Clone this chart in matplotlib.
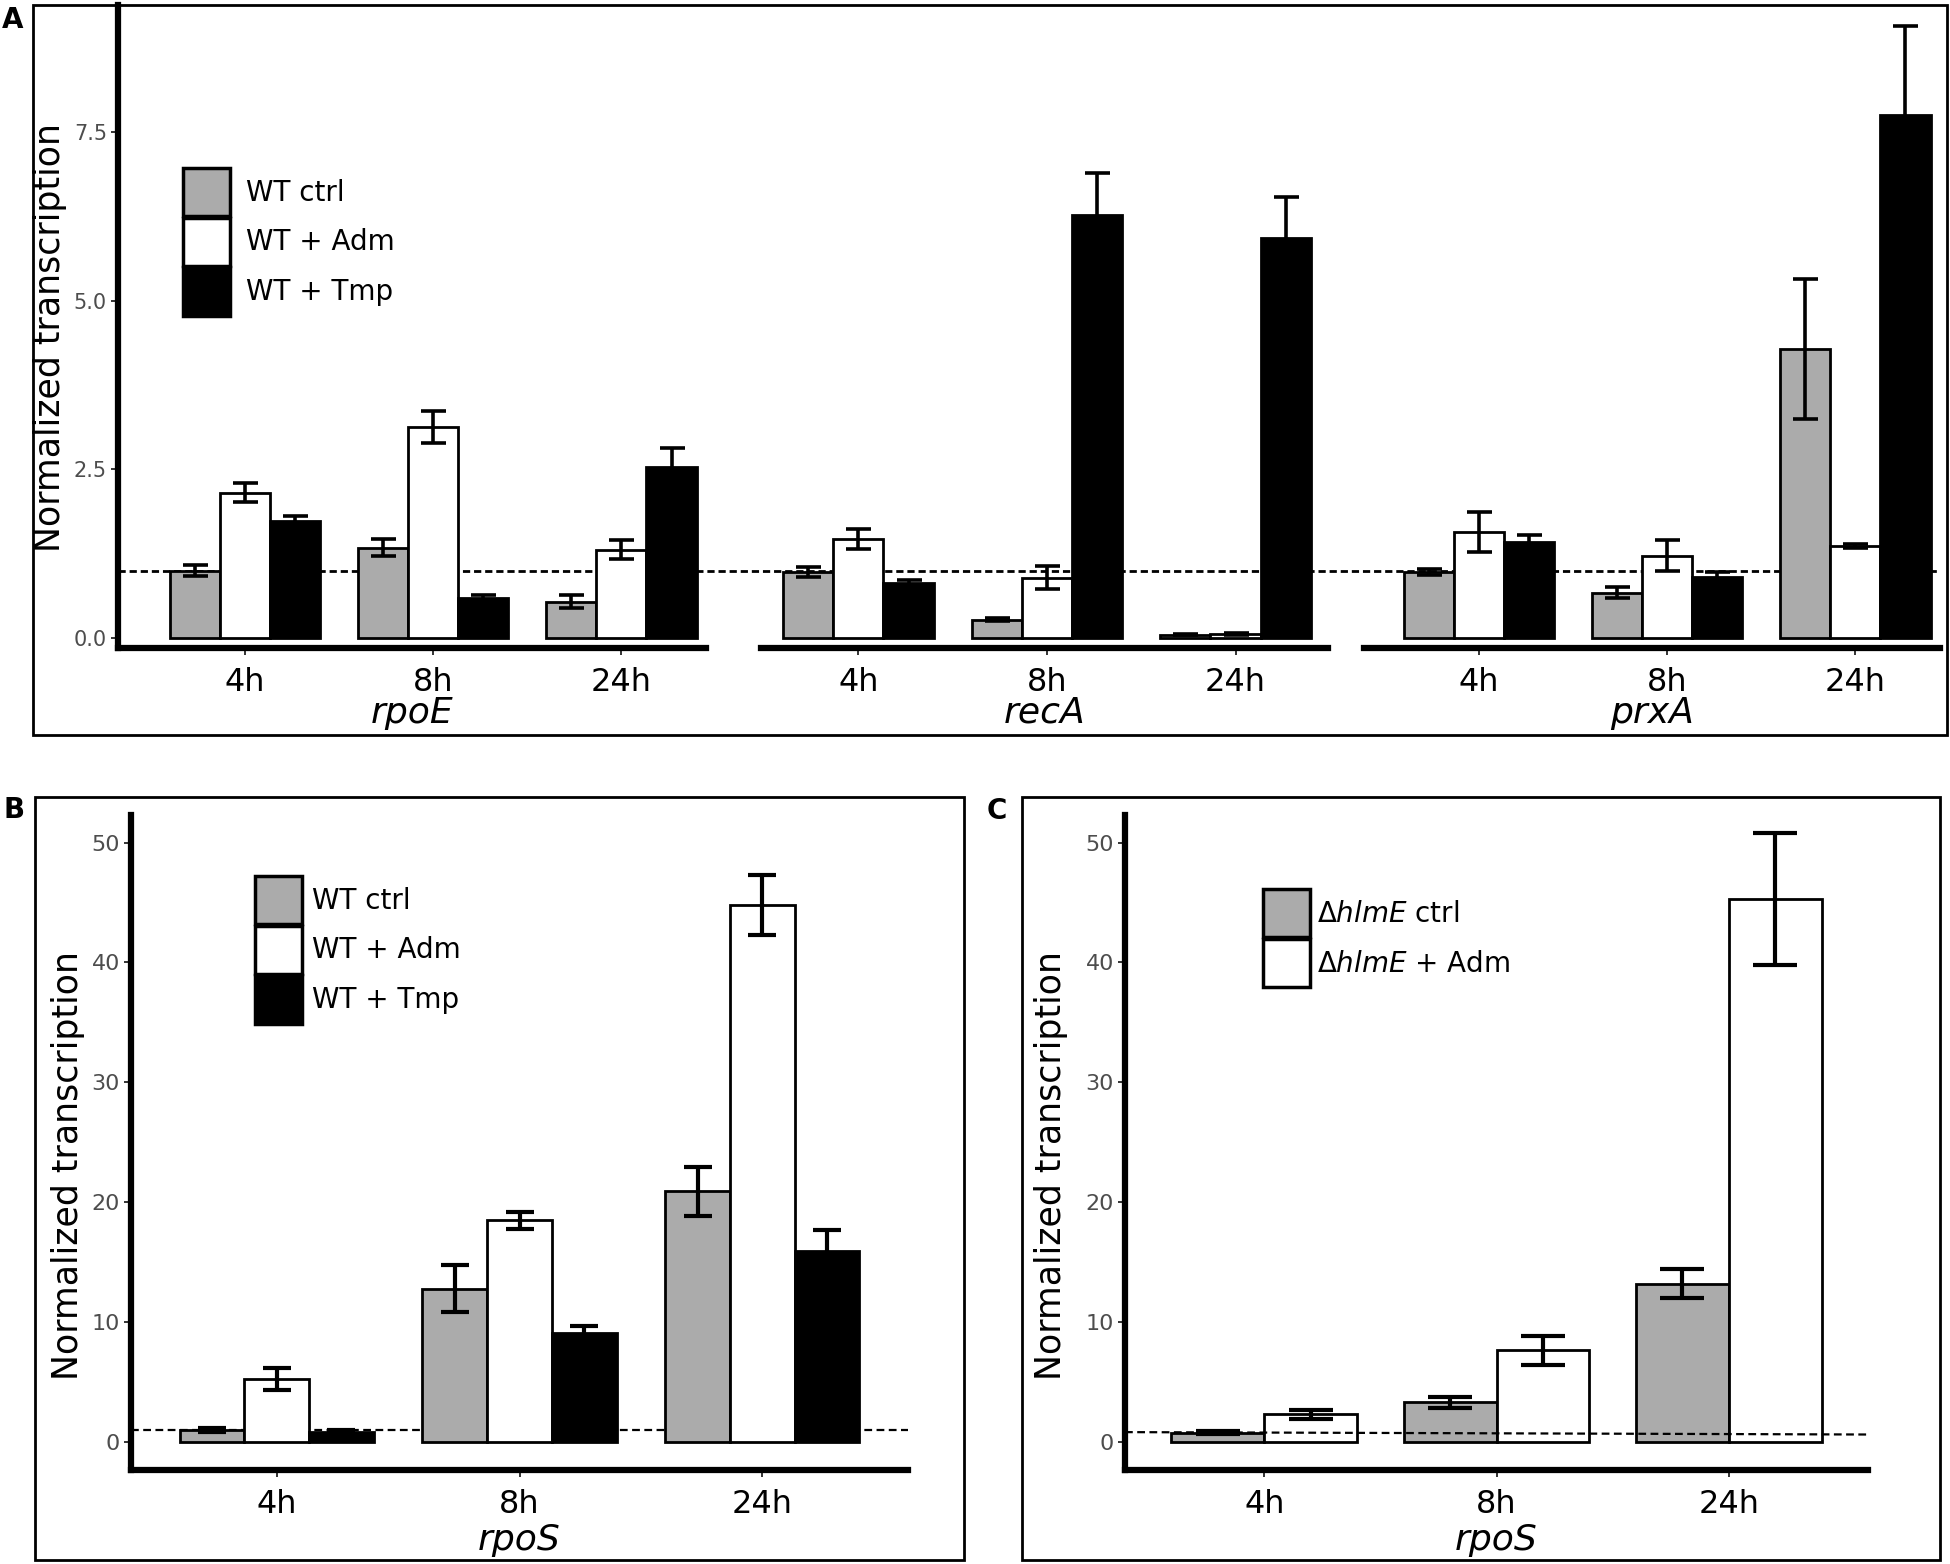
import numpy as np
import matplotlib
matplotlib.use("Agg")
import matplotlib.pyplot as plt
from matplotlib.patches import Patch, Rectangle

plt.rcParams['font.family'] = ['DejaVu Sans']
plt.rcParams['mathtext.fontset'] = 'dejavusans'

# ---- data ----
times = ["4h", "8h", "24h"]
genes_A = ["rpoE", "recA", "prxA"]

# panel A, one row per gene, one column per time point
A_ctrl = [[1.00, 1.34, 0.54], [0.98, 0.27, 0.05], [0.98, 0.67, 4.28]]
A_ctrl_err = [[0.08, 0.13, 0.10], [0.07, 0.02, 0.01], [0.04, 0.08, 1.04]]
A_adm = [[2.15, 3.13, 1.31], [1.47, 0.89, 0.06], [1.57, 1.22, 1.36]]
A_adm_err = [[0.14, 0.24, 0.14], [0.15, 0.17, 0.02], [0.29, 0.23, 0.03]]
A_tmp = [[1.74, 0.60, 2.54], [0.82, 6.27, 5.92], [1.42, 0.90, 7.75]]
A_tmp_err = [[0.07, 0.03, 0.27], [0.04, 0.62, 0.61], [0.10, 0.08, 1.32]]

# panel B, rpoS in WT
B_ctrl = [1.0, 12.8, 20.9]
B_ctrl_err = [0.2, 2.0, 2.05]
B_adm = [5.26, 18.5, 44.8]
B_adm_err = [0.9, 0.7, 2.5]
B_tmp = [0.85, 9.05, 15.9]
B_tmp_err = [0.15, 0.6, 1.8]

# panel C, rpoS in the hlmE mutant
C_ctrl = [0.78, 3.32, 13.2]
C_ctrl_err = [0.15, 0.45, 1.2]
C_adm = [2.29, 7.65, 45.3]
C_adm_err = [0.4, 1.2, 5.5]
C_ref = [0.82, 0.62]   # dashed reference line, left and right end

labels_WT = ["WT ctrl", "WT + Adm", "WT + Tmp"]
labels_C = [r"$\Delta\mathit{hlmE}$ ctrl", r"$\Delta\mathit{hlmE}$ + Adm"]

GREY = "#ABABAB"
fills = [GREY, "white", "black"]

W, H = 1950, 1564
DPI = 100
fig = plt.figure(figsize=(W / DPI, H / DPI), dpi=DPI)


def px_axes(l, t, r, b, **kw):
    return fig.add_axes([l / W, 1 - b / H, (r - l) / W, (b - t) / H], **kw)


def frame(l, t, r, b):
    fig.patches.append(Rectangle((l / W, 1 - b / H), (r - l) / W, (b - t) / H,
                                 transform=fig.transFigure, fill=False,
                                 edgecolor="black", lw=2.0, zorder=0))


def style_axes(ax, show_y=True, tick_fs=16):
    for s in ["top", "right"]:
        ax.spines[s].set_visible(False)
    ax.spines["bottom"].set_linewidth(4.5)
    ax.spines["left"].set_linewidth(4.5)
    if not show_y:
        ax.spines["left"].set_visible(False)
        ax.tick_params(axis="y", left=False, labelleft=False)
    ax.tick_params(axis="y", length=5, width=1.4, color="#333333",
                   labelsize=tick_fs, labelcolor="#4D4D4D", pad=3)
    ax.tick_params(axis="x", length=5, width=1.4, color="#333333",
                   labelsize=23, labelcolor="black", pad=9)
    ax.set_facecolor("none")


def grouped_bars(ax, series, errs, colors, capsize, elw):
    n = len(series)
    width = 0.8 / n
    x = np.arange(1, len(times) + 1)
    for i, (vals, err, c) in enumerate(zip(series, errs, colors)):
        pos = x - 0.4 + width * (i + 0.5)
        ax.bar(pos, vals, width, color=c, edgecolor="black", linewidth=2.0, zorder=2)
        ax.errorbar(pos, vals, yerr=err, fmt="none", ecolor="black",
                    elinewidth=elw, capsize=capsize, capthick=elw, zorder=3)
    ax.set_xticks(x)
    ax.set_xticklabels(times)


def add_legend(ax, colors, labels, l, r, top, bot, key_x, key_y, textpad):
    ax.legend(handles=[Patch(facecolor=c, edgecolor="black", lw=2.5) for c in colors],
              labels=labels, loc="upper left", fontsize=20, frameon=False,
              handlelength=1.7, handleheight=2.3, labelspacing=0.05,
              handletextpad=textpad, borderaxespad=0, borderpad=0,
              bbox_to_anchor=((key_x - l) / (r - l), (bot - key_y) / (bot - top)))


# ---------------- panel A ----------------
frame(33, 5, 1947, 735)
fig.text(2 / W, 1 - 20 / H, "A", fontsize=20, fontweight="bold", va="center", ha="left")

A_top, A_bot = 5, 648
A_ylim = (-0.148, 9.378)
facets = [(118, 706, (0.324, 3.45)), (761, 1328, (0.484, 3.49)), (1364, 1940, (0.39, 3.45))]

# dashed line at 1 running across all facets, behind the bars
ax_ref = px_axes(118, A_top, 1940, A_bot, zorder=0)
ax_ref.set_xlim(0, 1)
ax_ref.set_ylim(*A_ylim)
ax_ref.axhline(1.0, color="black", lw=2.0, ls=(0, (2.6, 1.4)))
ax_ref.axis("off")

for g, (l, r, xl) in enumerate(facets):
    ax = px_axes(l, A_top, r, A_bot, zorder=1)
    grouped_bars(ax, [A_ctrl[g], A_adm[g], A_tmp[g]],
                 [A_ctrl_err[g], A_adm_err[g], A_tmp_err[g]], fills, 9, 2.6)
    ax.set_xlim(*xl)
    ax.set_ylim(*A_ylim)
    ax.set_yticks([0, 2.5, 5.0, 7.5])
    ax.set_yticklabels(["0.0", "2.5", "5.0", "7.5"])
    style_axes(ax, show_y=(g == 0), tick_fs=15)
    fig.text((l + r) / 2 / W, 1 - 713 / H, genes_A[g], fontsize=26, style="italic",
             ha="center", va="center")
    if g == 0:
        add_legend(ax, fills, labels_WT, l, r, A_top, A_bot, 183, 168, 0.55)

fig.text(50 / W, 1 - 338 / H, "Normalized transcription", fontsize=25, rotation=90,
         ha="center", va="center")


# ---------------- panels B and C ----------------
BC_top, BC_bot = 815, 1470
BC_ylim = (-2.34, 52.3)


def rpos_panel(l, r, series, errs, colors, capsize, labels, leg_xy, textpad, ref_y, ref_on_top):
    ax = px_axes(l, BC_top, r, BC_bot)
    grouped_bars(ax, series, errs, colors, capsize, 3.0)
    ax.set_xlim(0.4, 3.6)
    ax.set_ylim(*BC_ylim)
    ax.set_yticks([0, 10, 20, 30, 40, 50])
    style_axes(ax, tick_fs=16)
    ax.plot([0.4, 3.6], ref_y, color="black", lw=1.6, ls=(0, (3.5, 2)),
            zorder=4 if ref_on_top else 1)
    fig.text((l + r) / 2 / W, 1 - 1540 / H, "rpoS", fontsize=26, style="italic",
             ha="center", va="center")
    add_legend(ax, colors, labels, l, r, BC_top, BC_bot, leg_xy[0], leg_xy[1], textpad)
    return ax


frame(35, 797, 964, 1560)
fig.text(3 / W, 1 - 810 / H, "B", fontsize=20, fontweight="bold", va="center", ha="left")
rpos_panel(131, 908, [B_ctrl, B_adm, B_tmp], [B_ctrl_err, B_adm_err, B_tmp_err],
           fills, 10, labels_WT, (255, 876), 0.35, [1.0, 1.0], False)
fig.text(68 / W, 1 - 1165 / H, "Normalized transcription", fontsize=25, rotation=90,
         ha="center", va="center")

frame(1022, 797, 1940, 1560)
fig.text(987 / W, 1 - 811 / H, "C", fontsize=20, fontweight="bold", va="center", ha="left")
rpos_panel(1125, 1868, [C_ctrl, C_adm], [C_ctrl_err, C_adm_err],
           fills[:2], 16, labels_C, (1263, 889), 0.25, C_ref, True)
fig.text(1051 / W, 1 - 1165 / H, "Normalized transcription", fontsize=25, rotation=90,
         ha="center", va="center")

fig.savefig("out.png", dpi=DPI)
